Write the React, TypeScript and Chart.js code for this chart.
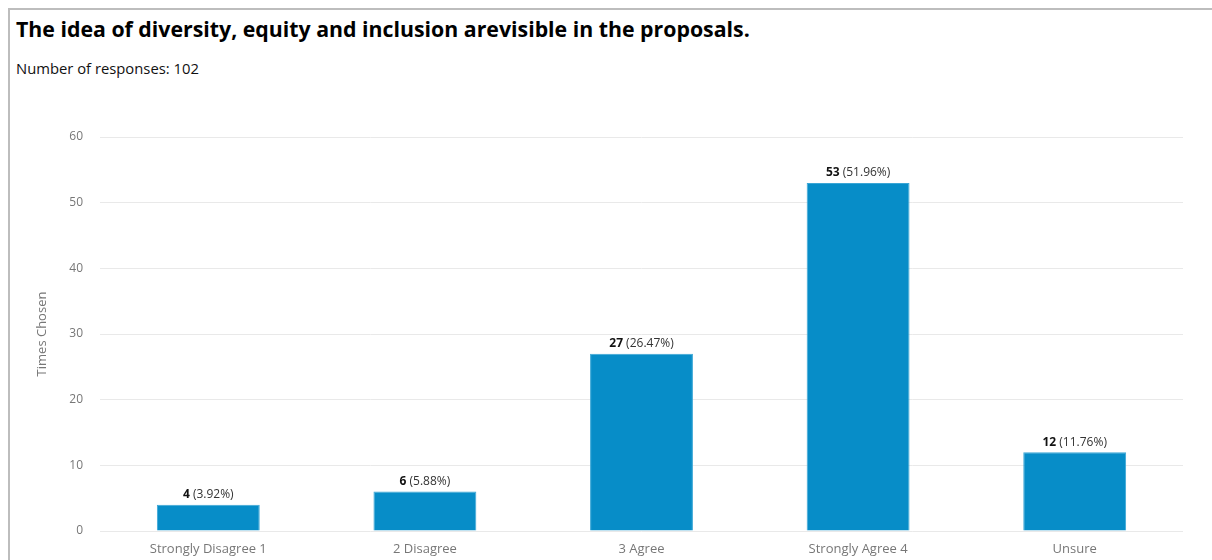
import React, { useEffect, useRef } from "react";
import { Chart, registerables } from "chart.js";

Chart.register(...registerables);

const TITLE = "The idea of diversity, equity and inclusion arevisible in the proposals.";
const SUBTITLE = "Number of responses: 102";
const categories = ["Strongly Disagree 1", "2 Disagree", "3 Agree", "Strongly Agree 4", "Unsure"];
const counts = [4, 6, 27, 53, 12];
const percents = ["3.92%", "5.88%", "26.47%", "51.96%", "11.76%"];
const yTicks = [0, 10, 20, 30, 40, 50, 60];
const Y_TITLE = "Times Chosen";

const FONT = "'Open Sans', 'Noto Sans', sans-serif";

const labelPlugin = {
  id: "barLabels",
  afterDatasetsDraw(chart: any) {
    const ctx = chart.ctx;
    const meta = chart.getDatasetMeta(0);
    ctx.save();
    ctx.textBaseline = "middle";
    meta.data.forEach((bar: any, i: number) => {
      const bold = String(counts[i]);
      const rest = " (" + percents[i] + ")";
      ctx.font = `bold 12px ${FONT}`;
      const wb = ctx.measureText(bold).width;
      ctx.font = `12px ${FONT}`;
      const wr = ctx.measureText(rest).width;
      const total = wb + wr;
      const x0 = bar.x - total / 2;
      const y = bar.y - 10;
      ctx.fillStyle = "#111";
      ctx.textAlign = "left";
      ctx.font = `bold 12px ${FONT}`;
      ctx.fillText(bold, x0, y);
      ctx.font = `12px ${FONT}`;
      ctx.fillStyle = "#333";
      ctx.fillText(rest, x0 + wb, y);
    });
    ctx.restore();
  },
};

export default function App() {
  const ref = useRef<HTMLCanvasElement>(null);
  useEffect(() => {
    if (!ref.current) return;
    const chart = new Chart(ref.current, {
      type: "bar",
      data: {
        labels: categories,
        datasets: [
          {
            data: counts,
            backgroundColor: "#078dc8",
            borderColor: "#3aa6d6",
            borderWidth: 1,
            barPercentage: 0.475,
            categoryPercentage: 1,
          },
        ],
      },
      plugins: [labelPlugin],
      options: {
        animation: false,
        responsive: false,
        maintainAspectRatio: false,
        layout: { padding: { top: 37, right: 21, bottom: 0, left: 0 } },
        plugins: { legend: { display: false }, tooltip: { enabled: false } },
        scales: {
          x: {
            grid: { display: false, drawTicks: false },
            border: { display: false },
            ticks: { color: "#777", font: { family: FONT, size: 13 }, padding: 10, maxRotation: 0 },
            afterFit: (s: any) => {
              s.height = 29;
            },
          },
          y: {
            min: 0,
            max: 60,
            afterBuildTicks: (s: any) => {
              s.ticks = yTicks.map((v) => ({ value: v }));
            },
            grid: { color: "#e9e9e9", drawTicks: false, lineWidth: 1 },
            border: { display: false },
            ticks: { color: "#777", font: { family: FONT, size: 12 }, padding: 17 },
            title: {
              display: true,
              text: Y_TITLE,
              color: "#777",
              font: { family: FONT, size: 13 },
              padding: { top: 24, bottom: 0 },
            },
            afterFit: (s: any) => {
              s.width = 90;
            },
          },
        },
      },
    });
    return () => chart.destroy();
  }, []);

  return (
    <div
      style={{
        position: "fixed",
        left: 8,
        top: 8,
        width: 1202,
        height: 550,
        borderLeft: "2px solid #bdbdbd",
        borderTop: "2px solid #bdbdbd",
        fontFamily: FONT,
        overflow: "hidden",
        background: "#fff",
      }}
    >
      <div
        style={{
          position: "absolute",
          left: 6,
          top: 6,
          fontSize: 21.3,
          lineHeight: "26px",
          fontWeight: 700,
          color: "#000",
          whiteSpace: "nowrap",
        }}
      >
        {TITLE}
      </div>
      <div
        style={{
          position: "absolute",
          left: 6,
          top: 48,
          fontSize: 14.8,
          lineHeight: "20px",
          color: "#111",
          whiteSpace: "nowrap",
        }}
      >
        {SUBTITLE}
      </div>
      <canvas
        ref={ref}
        width={1194}
        height={460}
        style={{ position: "absolute", left: 0, top: 90, width: 1194, height: 460 }}
      />
    </div>
  );
}
